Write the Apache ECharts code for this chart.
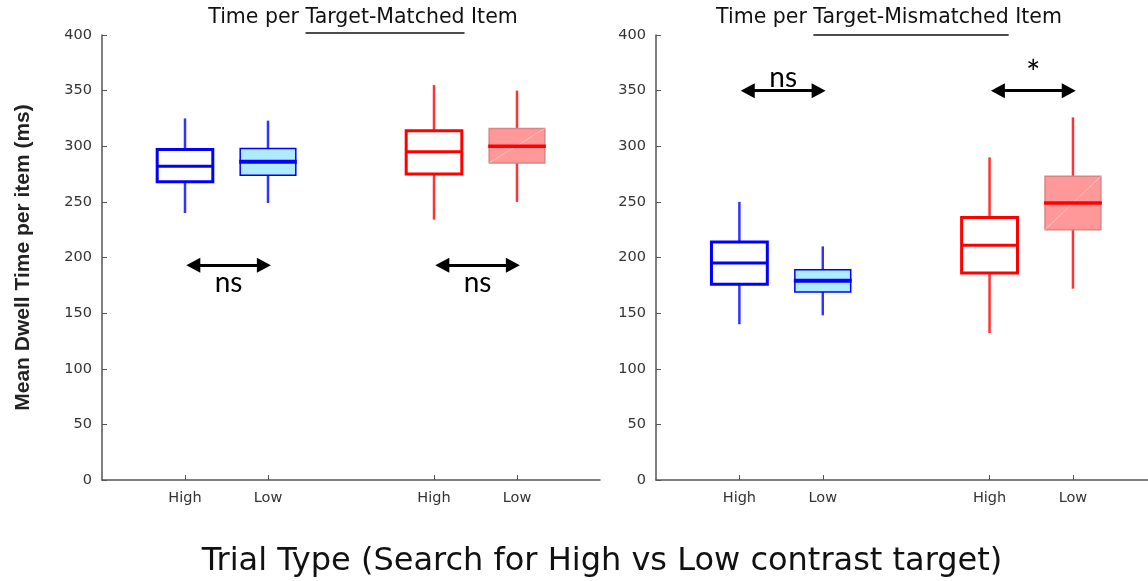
<!DOCTYPE html>
<html>
<head>
<meta charset="utf-8">
<script src="https://cdn.jsdelivr.net/npm/echarts@6/dist/echarts.min.js"></script>
<style>
html,body{margin:0;padding:0;background:#fff;}
#chart{width:1148px;height:581px;}
</style>
</head>
<body>
<div id="chart"></div>
<script>
// ---- data ----
const categories = ['', 'High', 'Low', '', 'High', 'Low', ''];
const boxSlots = [1, 2, 4, 5]; // category index of each box
// [min, q1, median, q3, max] for High(blue), Low(blue), High(red), Low(red)
const matchedStats = [
  [240, 268, 282, 297, 325],
  [249, 274, 286, 298, 323],
  [234, 275, 295, 314, 355],
  [250, 285, 300, 316, 350]
];
const mismatchedStats = [
  [140, 176, 195, 214, 250],
  [148, 169, 179, 189, 210],
  [132, 186, 211, 236, 290],
  [172, 225, 249, 273, 326]
];
const matchedSig = [
  { from: 1, to: 2, y: 193, text: 'ns' },
  { from: 4, to: 5, y: 193, text: 'ns' }
];
const mismatchedSig = [
  { from: 1, to: 2, y: 350, text: 'ns' },
  { from: 4, to: 5, y: 350, text: '*' }
];
const titleMatched = ['Time per ', 'Target-Matched', ' Item'];
const titleMismatched = ['Time per ', 'Target-Mismatched', ' Item'];
const yAxisTitle = 'Mean Dwell Time per item (ms)';
const xAxisTitle = 'Trial Type (Search for High vs Low contrast target)';

// ---- styles ----
const BLUE = '#0000FF', RED = '#FF0000';
const FILL = { blue: '#ADEBFD', red: '#FF9999' };
const EDGE = { blue: '#0000FF', red: '#D98585' };
const AXIS_COLOR = '#555';
const TICK_FONT = 'DejaVu Sans';

function renderBox(params, api) {
  const idx = api.value(0);
  const x = api.coord([idx, 0])[0];
  const yMin = api.coord([idx, api.value(1)])[1];
  const yQ1 = api.coord([idx, api.value(2)])[1];
  const yMed = api.coord([idx, api.value(3)])[1];
  const yQ3 = api.coord([idx, api.value(4)])[1];
  const yMax = api.coord([idx, api.value(5)])[1];
  const hw = api.size([1, 0])[0] * 0.335;
  const isHigh = categories[idx] === 'High';
  const tone = idx < 3 ? 'blue' : 'red';
  const color = tone === 'blue' ? BLUE : RED;
  const children = [];
  const whisk = { stroke: color, lineWidth: 2.5, opacity: 0.8 };
  children.push({ type: 'line', shape: { x1: x, y1: yQ3, x2: x, y2: yMax }, style: whisk });
  children.push({ type: 'line', shape: { x1: x, y1: yQ1, x2: x, y2: yMin }, style: whisk });
  if (isHigh) {
    children.push({ type: 'rect', shape: { x: x - hw, y: yQ3, width: 2 * hw, height: yQ1 - yQ3 },
      style: { fill: '#fff', stroke: color, lineWidth: 3 } });
    children.push({ type: 'line', shape: { x1: x - hw, y1: yMed, x2: x + hw, y2: yMed },
      style: { stroke: color, lineWidth: 3 } });
  } else {
    children.push({ type: 'rect', shape: { x: x - hw, y: yQ3, width: 2 * hw, height: yQ1 - yQ3 },
      style: { fill: FILL[tone], stroke: EDGE[tone], lineWidth: 1.5 } });
    if (tone === 'red') {
      children.push({ type: 'line', shape: { x1: x - hw, y1: yQ1, x2: x + hw, y2: yQ3 },
        style: { stroke: 'rgba(255,255,255,0.35)', lineWidth: 1 } });
    }
    children.push({ type: 'line', shape: { x1: x - hw - 1, y1: yMed, x2: x + hw + 1, y2: yMed },
      style: { stroke: color, lineWidth: tone === 'blue' ? 4 : 3.5 } });
  }
  return { type: 'group', children };
}

function sigLines(sig, below) {
  return {
    silent: true,
    animation: false,
    symbol: ['triangle', 'triangle'],
    symbolSize: [15, 14],
    lineStyle: { color: '#000', width: 3, type: 'solid' },
    label: {
      show: true,
      position: below ? 'insideMiddleBottom' : 'insideMiddleTop',
      fontFamily: 'Lato',
      fontSize: 28,
      color: '#000',
      distance: 4
    },
    emphasis: { disabled: true },
    data: sig.map(s => [
      { coord: [s.from + 0.1, s.y], name: s.text,
        label: { formatter: s.text,
          fontSize: s.text === '*' ? 34 : 28,
          distance: below ? 4 : (s.text === '*' ? 0 : -1) } },
      { coord: [s.to - 0.05, s.y] }
    ])
  };
}

const tickSlots = categories.map((c, i) => i).filter(i => categories[i] !== '');
function xAxisCfg(gridIndex, max) {
  return {
    type: 'value', gridIndex, min: 0, max, interval: 1,
    axisLine: { onZero: false, lineStyle: { color: AXIS_COLOR, width: 1.5 } },
    axisTick: { inside: true, length: 5, customValues: tickSlots, lineStyle: { color: AXIS_COLOR } },
    axisLabel: { customValues: tickSlots, formatter: v => categories[Math.round(v)] || '',
      fontFamily: TICK_FONT, fontSize: 14.5, color: '#333', margin: 11 },
    splitLine: { show: false }
  };
}
function yAxisCfg(gridIndex, withName) {
  const cfg = {
    type: 'value', gridIndex, min: 0, max: 400, interval: 50,
    axisLine: { show: true, onZero: false, lineStyle: { color: AXIS_COLOR, width: 1.5 } },
    axisTick: { show: true, inside: true, length: 5, lineStyle: { color: AXIS_COLOR } },
    axisLabel: { fontFamily: TICK_FONT, fontSize: 14.5, color: '#333', margin: 10 },
    splitLine: { show: false }
  };
  if (withName) {
    cfg.name = yAxisTitle;
    cfg.nameLocation = 'middle';
    cfg.nameGap = 68;
    cfg.nameRotate = 90;
    cfg.nameTextStyle = { fontFamily: 'Liberation Sans', fontWeight: 'bold', fontSize: 21, color: '#222' };
  }
  return cfg;
}

// measure text for underlines
const mctx = document.createElement('canvas').getContext('2d');
function titleGraphics(parts, cx, cy, uy) {
  const font = '20.5px "DejaVu Sans"';
  mctx.font = font;
  const full = parts.join('');
  const W = mctx.measureText(full).width;
  const x0 = cx - W / 2;
  const a = x0 + mctx.measureText(parts[0]).width;
  const b = x0 + mctx.measureText(parts[0] + parts[1]).width;
  return [
    { type: 'text', x: cx, y: cy, style: { text: full, font, fill: '#111', align: 'center', verticalAlign: 'middle' } },
    { type: 'line', shape: { x1: a, y1: uy, x2: b, y2: uy }, style: { stroke: '#111', lineWidth: 1.5 } }
  ];
}

const chart = echarts.init(document.getElementById('chart'), null, { renderer: 'canvas' });
const option = {
  animation: false,
  backgroundColor: '#fff',
  grid: [
    { left: 102, top: 35, width: 498, height: 445 },
    { left: 656, top: 35, width: 492, height: 445 }
  ],
  xAxis: [xAxisCfg(0, 6), xAxisCfg(1, 5.9)],
  yAxis: [yAxisCfg(0, true), yAxisCfg(1, false)],
  series: [
    {
      type: 'custom', xAxisIndex: 0, yAxisIndex: 0,
      data: boxSlots.map((s, i) => [s].concat(matchedStats[i])),
      encode: { x: 0, y: [1, 2, 3, 4, 5] },
      renderItem: renderBox,
      markLine: sigLines(matchedSig, true)
    },
    {
      type: 'custom', xAxisIndex: 1, yAxisIndex: 1,
      data: boxSlots.map((s, i) => [s].concat(mismatchedStats[i])),
      encode: { x: 0, y: [1, 2, 3, 4, 5] },
      renderItem: renderBox,
      markLine: sigLines(mismatchedSig, false)
    }
  ],
  graphic: [
    ...titleGraphics(titleMatched, 363, 18, 33),
    ...titleGraphics(titleMismatched, 889, 18, 35),
    { type: 'text', x: 602, y: 562, style: { text: xAxisTitle, font: '32px "DejaVu Sans"', fill: '#111', align: 'center', verticalAlign: 'middle' } }
  ]
};
chart.setOption(option);
</script>
</body>
</html>
